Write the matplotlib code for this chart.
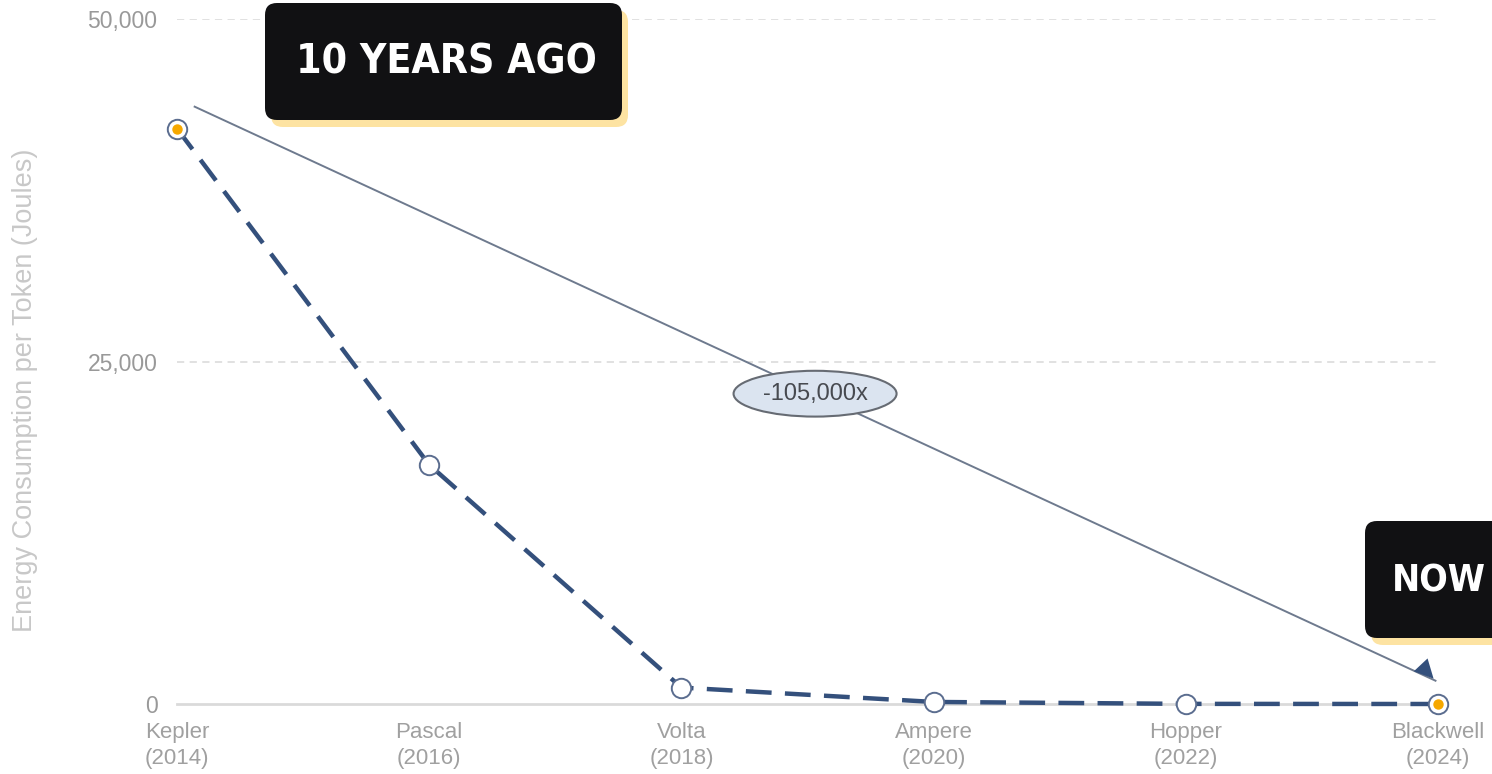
import numpy as np
import matplotlib
matplotlib.use('Agg')
import matplotlib.pyplot as plt
from matplotlib.patches import FancyBboxPatch

plt.rcParams['font.family'] = ['Liberation Sans', 'DejaVu Sans']

# data
gpus = ['Kepler', 'Pascal', 'Volta', 'Ampere', 'Hopper', 'Blackwell']
years = ['2014', '2016', '2018', '2020', '2022', '2024']
energy = [42000, 17460, 1200, 150, 10, 0.4]
highlight = [0, 5]
yticks = [0, 25000, 50000]
arrow_start = (0.07, 43600)
arrow_end = (4.99, 1700)
arrow_label = '-105,000x'

W, H = 1492, 774
fig = plt.figure(figsize=(W / 100, H / 100), dpi=100)
fig.patch.set_facecolor('white')
ax = fig.add_axes([177 / W, 1 - 704 / H, (1438 - 177) / W, (704 - 19) / H])

x = np.arange(len(gpus))
navy = '#34507c'
ax.plot(x, energy, color=navy, lw=3.2, dashes=(5.8, 3.0), zorder=3, clip_on=False)
ax.plot(x, energy, 'o', ms=14, mfc='white', mec='#5b6d8f', mew=1.4, zorder=4, clip_on=False)
ax.plot(x[highlight], [energy[i] for i in highlight], 'o', ms=7.5, mfc='#f6a800',
        mec='none', zorder=5, clip_on=False)

ax.set_xlim(0, len(gpus) - 1)
ax.set_ylim(0, 50000)
ax.set_yticks(yticks)
ax.set_yticklabels([f'{v:,}' for v in yticks], color='#999999', fontsize=16.5)
ax.set_xticks(x)
ax.set_xticklabels([f'{g}\n({y})' for g, y in zip(gpus, years)], color='#a0a0a0',
                   fontsize=16, linespacing=1.3)
ax.tick_params(length=0)
ax.tick_params(axis='y', pad=14)
ax.tick_params(axis='x', pad=13)
for sp in ax.spines.values():
    sp.set_visible(False)
ax.axhline(0, color='#dadada', lw=2, zorder=1, clip_on=False)
for v in yticks[1:]:
    ax.axhline(v, color='#dedede', lw=1.3, ls=(0, (4, 3)), zorder=1)
ax.set_ylabel('Energy Consumption per Token (Joules)', color='#c8c8c8', fontsize=19.5)
ax.yaxis.set_label_coords(-(177 - 38) / (1438 - 177), (704 - 390) / (704 - 19))

# arrow showing the drop
ax.plot([arrow_start[0], arrow_end[0]], [arrow_start[1], arrow_end[1]],
        color='#6e7a8e', lw=1.4, zorder=2)
ax.annotate('', xy=arrow_end, xytext=(arrow_end[0] - 0.06, arrow_end[1] + 1180),
            arrowprops=dict(arrowstyle='-|>', color='#34507c', lw=0, mutation_scale=34),
            zorder=3)
mx = (arrow_start[0] + arrow_end[0]) / 2
my = (arrow_start[1] + arrow_end[1]) / 2
ax.text(mx, my, arrow_label, ha='center', va='center', fontsize=17, color='#474a50', zorder=6,
        bbox=dict(boxstyle='ellipse,pad=0.22', fc='#dbe4f0', ec='#666b73', lw=1.5))

renderer = fig.canvas.get_renderer()


# label boxes in figure pixels
def label_box(x0, y0, x1, y1, text, tx, ty, max_w, max_size):
    shadow = FancyBboxPatch((x0 / W + 6 / W, 1 - (y1 + 7) / H), (x1 - x0) / W, (y1 - y0) / H,
                            boxstyle='round,pad=0,rounding_size=0.008', transform=fig.transFigure,
                            fc='#fde3a2', ec='none', zorder=9, mutation_aspect=W / H)
    box = FancyBboxPatch((x0 / W, 1 - y1 / H), (x1 - x0) / W, (y1 - y0) / H,
                         boxstyle='round,pad=0,rounding_size=0.008', transform=fig.transFigure,
                         fc='#111113', ec='none', zorder=10, mutation_aspect=W / H)
    fig.patches.extend([shadow, box])
    t = fig.text(tx / W, 1 - ty / H, text, color='white', fontsize=max_size, fontweight='bold',
                 fontstretch='condensed', family=['DejaVu Sans', 'Liberation Sans'],
                 ha='left', va='center', zorder=11)
    # shrink to fit the box width
    w = t.get_window_extent(renderer).width
    if w > max_w:
        t.set_fontsize(max_size * max_w / w)


label_box(265, 3, 622, 120, '10 YEARS AGO', 296, 63, 300, 40)
label_box(1365, 521, 1520, 638, 'NOW', 1392, 581, 94, 40)

fig.savefig('out.png', dpi=100)
